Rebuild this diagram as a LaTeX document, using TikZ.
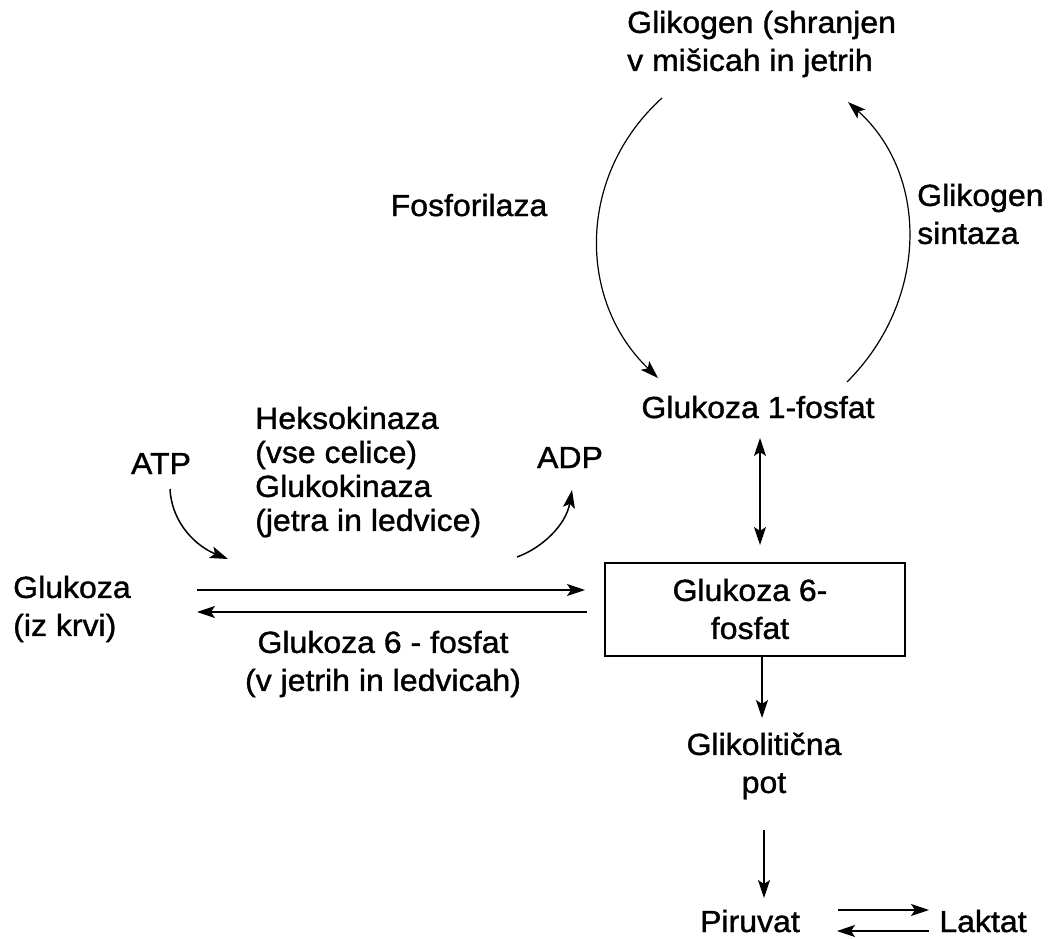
\documentclass[tikz,border=0pt]{standalone}
\usepackage{fontspec}
\setmainfont{Liberation Sans}[FakeStretch=1.05,FakeBold=1.2]
\usetikzlibrary{arrows.meta}
\begin{document}
\begin{tikzpicture}[x=1pt,y=-1pt,
  lbl/.style={inner sep=0pt,font=\fontsize{30.5}{38}\selectfont},
  lblt/.style={inner sep=0pt,font=\fontsize{30.5}{34}\selectfont},
  arr/.style={line width=1.5pt,-{Stealth[length=18pt,width=12pt,inset=4pt]}},
  arc/.style={line width=1.2pt,-{Stealth[length=18pt,width=12pt,inset=4pt]}},
  dbl/.style={line width=1.5pt,{Stealth[length=18pt,width=12pt,inset=4pt]}-{Stealth[length=18pt,width=12pt,inset=4pt]}},
  boxst/.style={draw,line width=1.5pt,minimum width=300pt,minimum height=93pt,inner sep=0pt}]
\useasboundingbox (0,0) rectangle (1058,939);
\fill[white] (0,0) rectangle (1058,939);

% texts
\node[lbl,anchor=west,align=left] (glik) at (627,44) {Glikogen (shranjen\\v mišicah in jetrih};
\node[lbl,anchor=base] (fosf) at (469,216) {Fosforilaza};
\node[lbl,anchor=west,align=left] (sint) at (917,214) {Glikogen\\sintaza};
\node[lbl,anchor=base] (g1p) at (758,418) {Glukoza 1-fosfat};
\node[lbl,anchor=base] (atp) at (161,474) {ATP};
\node[lblt,anchor=west,align=left] (heks) at (255,472) {Heksokinaza\\(vse celice)\\Glukokinaza\\(jetra in ledvice)};
\node[lbl,anchor=base] (adp) at (570,468) {ADP};
\node[lbl,anchor=west,align=left] (glu) at (13,609) {Glukoza\\(iz krvi)};
\node[boxst] (box) at (755,609.5) {};
\node[lbl,align=center] (g6p) at (750,609) {Glukoza 6-\\fosfat};
\node[lbl,align=center] (g6pl) at (383,664) {Glukoza 6 - fosfat\\(v jetrih in ledvicah)};
\node[lbl,align=center] (pot) at (764,766) {Glikolitična\\pot};
\node[lbl,anchor=base] (pir) at (750,932) {Piruvat};
\node[lbl,anchor=base] (lak) at (983,932) {Laktat};

% connector end points
\coordinate (arcLs) at (662,98);
\coordinate (arcLe) at (658,378);
\coordinate (arcRs) at (847,382);
\coordinate (arcRe) at (848,102);
\coordinate (atpS) at (170,489);
\coordinate (atpE) at (228,559);
\coordinate (adpS) at (517,557);
\coordinate (adpE) at (572,490);
\coordinate (fwS) at (197,590);
\coordinate (fwE) at (585,590);
\coordinate (bwS) at (587,612);
\coordinate (bwE) at (197,612);
\coordinate (vA) at (760,438);
\coordinate (vB) at (760,545);
\coordinate (d1S) at (762,656);
\coordinate (d1E) at (762,718);
\coordinate (d2S) at (764,830);
\coordinate (d2E) at (764,898);
\coordinate (plS) at (838,910);
\coordinate (plE) at (929,910);
\coordinate (lpS) at (929,931);
\coordinate (lpE) at (837,931);

% connectors
\draw[arc] (arcLs) .. controls (577,175) and (577,300) .. (arcLe);
\draw[arc] (arcRs) .. controls (929,300) and (929,175) .. (arcRe);
\draw[arr] (atpS) .. controls (172,525) and (198,547) .. (atpE);
\draw[arr] (adpS) .. controls (542,548) and (566,525) .. (adpE);
\draw[arr] (fwS) -- (fwE);
\draw[arr] (bwS) -- (bwE);
\draw[dbl] (vA) -- (vB);
\draw[arr] (d1S) -- (d1E);
\draw[arr] (d2S) -- (d2E);
\draw[arr] (plS) -- (plE);
\draw[arr] (lpS) -- (lpE);
\end{tikzpicture}
\end{document}
